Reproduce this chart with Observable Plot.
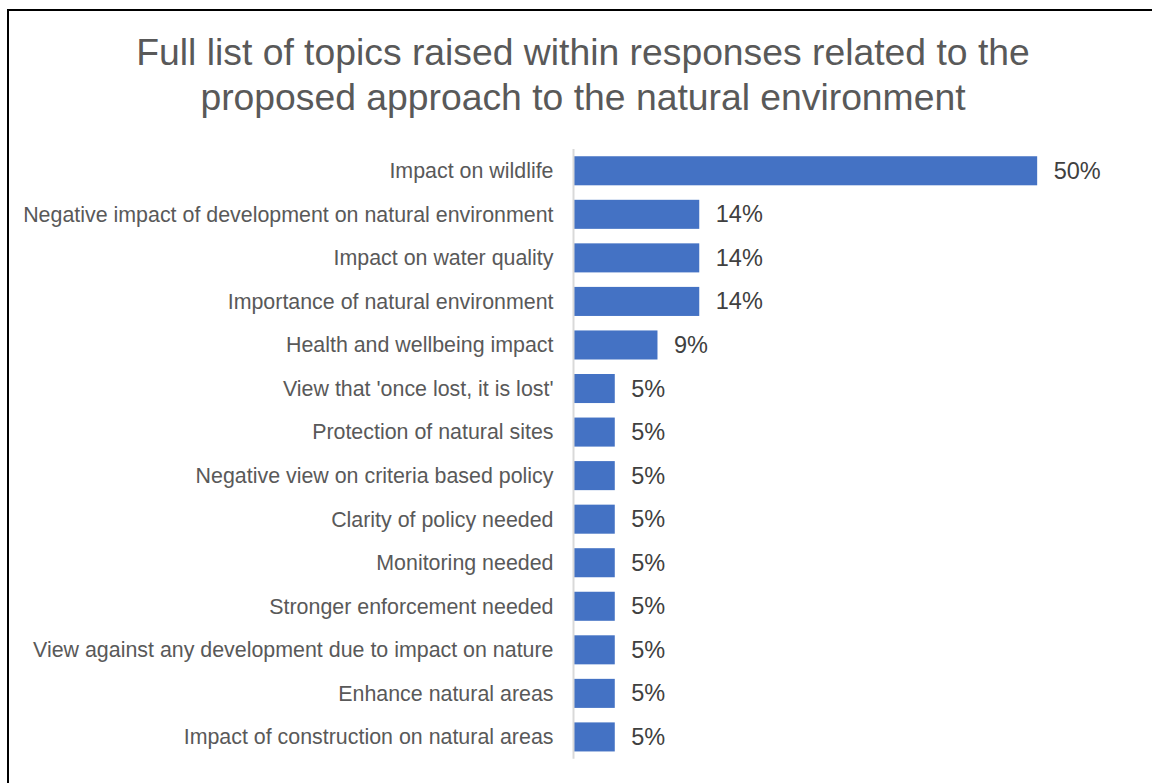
<!DOCTYPE html>
<html>
<head>
<meta charset="utf-8">
<script src="https://cdn.jsdelivr.net/npm/d3@7"></script>
<script src="https://cdn.jsdelivr.net/npm/@observablehq/plot@0.6"></script>
<style>
  html, body { margin: 0; padding: 0; background: #fff; }
  #page { position: relative; width: 1152px; height: 783px; overflow: hidden; font-family: "Liberation Sans", Arial, sans-serif; }
  #frame { position: absolute; left: 7px; top: 9px; width: 1200px; height: 800px; border-left: 2px solid #000; border-top: 2px solid #000; }
  #title { position: absolute; left: 0; top: 30px; width: 1166px; text-align: center; font-size: 37.3px; line-height: 44.5px; color: #595959; }
  #chart { position: absolute; left: 0; top: 130px; line-height: 0; }
</style>
</head>
<body>
<div id="page">
  <div id="frame"></div>
  <div id="title">Full list of topics raised within responses related to the<br>proposed approach to the natural environment</div>
  <div id="chart"></div>
</div>
<script>
const topics = [
  "Impact on wildlife",
  "Negative impact of development on natural environment",
  "Impact on water quality",
  "Importance of natural environment",
  "Health and wellbeing impact",
  "View that 'once lost, it is lost'",
  "Protection of natural sites",
  "Negative view on criteria based policy",
  "Clarity of policy needed",
  "Monitoring needed",
  "Stronger enforcement needed",
  "View against any development due to impact on nature",
  "Enhance natural areas",
  "Impact of construction on natural areas"
];
const shares = [50, 13.6, 13.6, 13.6, 9.1, 4.5, 4.5, 4.5, 4.5, 4.5, 4.5, 4.5, 4.5, 4.5];
const labels = ["50%", "14%", "14%", "14%", "9%", "5%", "5%", "5%", "5%", "5%", "5%", "5%", "5%", "5%"];

const data = topics.map((t, i) => ({topic: t, value: shares[i], label: labels[i]}));

const chart = Plot.plot({
  width: 1152,
  height: 650,
  marginLeft: 573,
  marginRight: 22,
  marginTop: 19,
  marginBottom: 21.3,
  style: {fontFamily: "'Liberation Sans', Arial, sans-serif", color: "#595959", background: "transparent"},
  x: {domain: [0, 60], axis: null},
  y: {domain: topics, paddingInner: 0.333, paddingOuter: 0.1665, round: false, label: null},
  marks: [
    Plot.barX(data, {x: "value", y: "topic", fill: "#4472C4"}),
    Plot.ruleX([0], {stroke: "#d9d9d9", strokeWidth: 2}),
    Plot.axisY({tickSize: 0, tickPadding: 20, fontSize: 21.4, label: null}),
    Plot.text(data, {x: "value", y: "topic", text: "label", dx: 16, textAnchor: "start", fontSize: 23.5, fill: "#404040"})
  ]
});
document.getElementById("chart").appendChild(chart);
</script>
</body>
</html>
